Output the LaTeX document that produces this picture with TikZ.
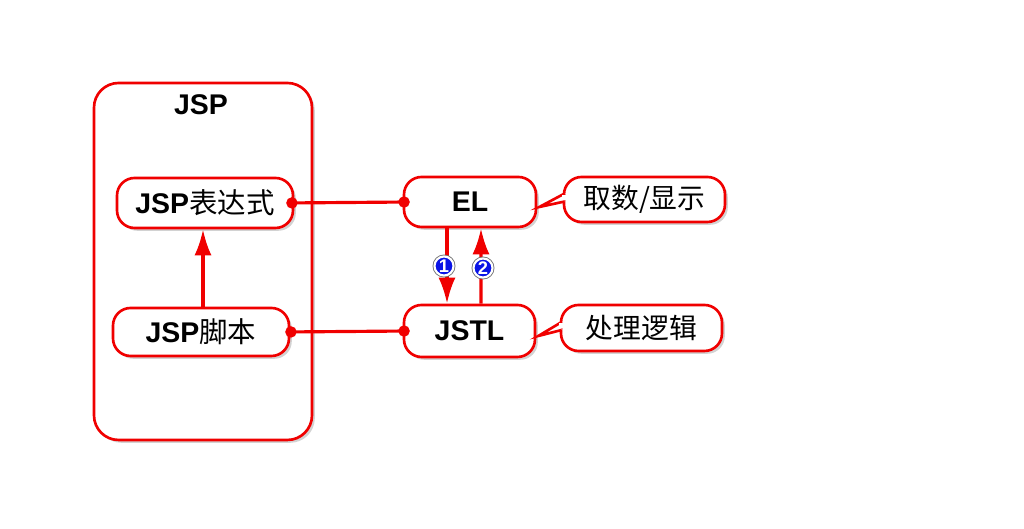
\documentclass[tikz,border=0pt]{standalone}
\usepackage{fontspec}
\setsansfont{Liberation Sans}
\newfontfamily\cjk{Noto Sans CJK SC}
\usepackage{tikz}
\usetikzlibrary{arrows.meta, positioning, shadows}
\definecolor{lnRed}{HTML}{F00000}
\definecolor{mkBlue}{HTML}{0A14E6}
\definecolor{shd}{HTML}{808080}
\tikzset{
  box/.style={draw=lnRed, line width=0.75pt, rounded corners=5pt, fill=white,
    font=\fontsize{8.1}{9}\selectfont\sffamily\bfseries, align=center, inner sep=2pt,
    drop shadow={shadow xshift=0.8pt, shadow yshift=-0.8pt, opacity=0.35, fill=shd}},
  grp/.style={box, rounded corners=7pt},
  note/.style={box, font=\fontsize{7.9}{9}\selectfont\cjk},
  % pointer wedge of a note, drawn over the note's left border
  wedge/.style={fill=white, draw=lnRed, line width=0.75pt, line join=miter},
  A/.style={-{Latex[length=2.6mm,width=1.7mm]}, lnRed, line width=0.9pt},
  link/.style={{Circle[length=3.2pt]}-{Circle[length=3.2pt]}, lnRed, line width=0.9pt},
  step num/.style={circle, fill=mkBlue, draw=white, line width=0.6pt, inner sep=0pt,
    preaction={draw=black!55, line width=1.1pt},
    minimum size=0.19cm, text=white, font=\fontsize{5.2}{6}\selectfont\sffamily\bfseries},
}
\begin{document}
\begin{tikzpicture}
\useasboundingbox (0,0) rectangle (10.24,5.29);

% ── JSP group ────────────────────────────────────────────────────────
\node[grp, minimum width=2.18cm, minimum height=3.57cm] (jsp) at (2.03,2.675) {};
\node[font=\fontsize{8.1}{9}\selectfont\sffamily\bfseries] (jsptitle) at (2.01,4.24) {JSP};

\node[box, minimum width=1.76cm, minimum height=0.50cm] (expr) at (2.05,3.26)
  {JSP{\cjk\mdseries 表达式}};
\node[box, minimum width=1.76cm, minimum height=0.48cm] (scr) at (2.01,1.97)
  {JSP{\cjk\mdseries 脚本}};
\draw[A] (scr.north -| 2.03,0) -- (expr.south -| 2.03,0);

% ── EL / JSTL ────────────────────────────────────────────────────────
\node[box, minimum width=1.32cm, minimum height=0.50cm] (el) at (4.70,3.27) {EL};
\node[box, minimum width=1.31cm, minimum height=0.52cm] (jstl) at (4.695,1.98) {JSTL};

\draw[link] ([xshift=-0.08cm]expr.east) -- ([xshift=0.07cm]el.west);
\draw[link] ([xshift=-0.05cm]scr.east) -- ([xshift=0.07cm]jstl.west);

\draw[A] ([xshift=-0.23cm]el.south) -- ([xshift=-0.225cm]jstl.north);
\draw[A] ([xshift=0.115cm]jstl.north) -- ([xshift=0.11cm]el.south);
\node[step num] (n1) at (4.44,2.63) {1};
\node[step num] (n2) at (4.83,2.61) {2};

% ── callouts ─────────────────────────────────────────────────────────
\node[note, minimum width=1.61cm, minimum height=0.45cm] (get) at (6.445,3.295) {取数/显示};
\node[note, minimum width=1.61cm, minimum height=0.46cm] (logic) at (6.415,2.01) {处理逻辑};

\coordinate (gettip) at ([xshift=0.02cm,yshift=-0.05cm]el.east);
\coordinate (logictip) at ([xshift=0.02cm,yshift=-0.05cm]jstl.east);
\draw[wedge] ([xshift=0.02cm,yshift=0.06cm]get.west) -- (gettip)
  -- ([xshift=0.02cm,yshift=-0.02cm]get.west);
\draw[wedge] ([xshift=0.02cm,yshift=0.06cm]logic.west) -- (logictip)
  -- ([xshift=0.02cm,yshift=-0.02cm]logic.west);
\fill[white] ([xshift=-0.01cm,yshift=0.045cm]get.west) rectangle ([xshift=0.04cm,yshift=-0.005cm]get.west);
\fill[white] ([xshift=-0.01cm,yshift=0.045cm]logic.west) rectangle ([xshift=0.04cm,yshift=-0.005cm]logic.west);

\end{tikzpicture}
\end{document}
